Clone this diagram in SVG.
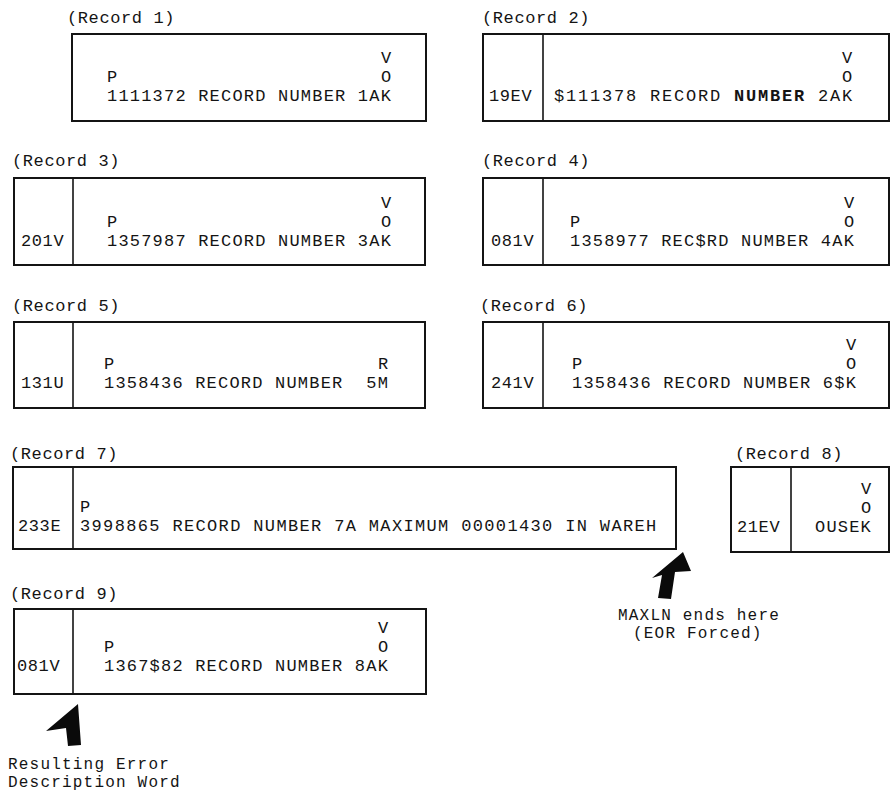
<svg xmlns="http://www.w3.org/2000/svg" width="891" height="792" viewBox="0 0 891 792">
<style>
text{font-family:"Liberation Mono","Courier New",monospace;font-size:17px;letter-spacing:0.6px;fill:#141414}
.c{letter-spacing:1.2px}
.n{font-size:16px;letter-spacing:1.2px}
.box{fill:none;stroke:#141414;stroke-width:2}
.div{stroke:#141414;stroke-width:1.6}
.arr{fill:#0a0a0a;stroke:none}
</style>
<rect width="891" height="792" fill="#fff"/>
<g id="record1">
<text x="67" y="23">(Record 1)</text>
<rect class="box" x="72" y="34" width="354" height="87"/>
<text class="c" x="381" y="63">V</text>
<text class="c" x="107" y="82">P</text>
<text class="c" x="381" y="82">O</text>
<text class="c" x="107" y="101">1111372 RECORD NUMBER 1AK</text>
</g>
<g id="record2">
<text x="482" y="23">(Record 2)</text>
<rect class="box" x="483" y="34" width="406" height="87"/>
<line class="div" x1="543" y1="34" x2="543" y2="121"/>
<text x="489" y="101">19EV</text>
<text x="842" y="63">V</text>
<text x="842" y="82">O</text>
<text x="554" y="101" style="letter-spacing:1.8px">$111378 RECORD <tspan font-weight="bold">NUMBER</tspan> 2AK</text>
</g>
<g id="record3">
<text x="12" y="166">(Record 3)</text>
<rect class="box" x="14" y="178" width="411" height="87"/>
<line class="div" x1="73" y1="178" x2="73" y2="265"/>
<text x="21" y="246">201V</text>
<text class="c" x="381" y="208">V</text>
<text class="c" x="107" y="227">P</text>
<text class="c" x="381" y="227">O</text>
<text class="c" x="107" y="246">1357987 RECORD NUMBER 3AK</text>
</g>
<g id="record4">
<text x="482" y="166">(Record 4)</text>
<rect class="box" x="483" y="178" width="406" height="87"/>
<line class="div" x1="543" y1="178" x2="543" y2="265"/>
<text x="491" y="246">081V</text>
<text class="c" x="844" y="208">V</text>
<text class="c" x="570" y="227">P</text>
<text class="c" x="844" y="227">O</text>
<text class="c" x="570" y="246">1358977 REC$RD NUMBER 4AK</text>
</g>
<g id="record5">
<text x="12" y="311">(Record 5)</text>
<rect class="box" x="14" y="322" width="411" height="86"/>
<line class="div" x1="73" y1="322" x2="73" y2="408"/>
<text x="21" y="388">131U</text>
<text class="c" x="104" y="369">P</text>
<text class="c" x="378" y="369">R</text>
<text class="c" x="104" y="388" xml:space="preserve">1358436 RECORD NUMBER  5M</text>
</g>
<g id="record6">
<text x="480" y="311">(Record 6)</text>
<rect class="box" x="483" y="322" width="406" height="86"/>
<line class="div" x1="543" y1="322" x2="543" y2="408"/>
<text x="491" y="388">241V</text>
<text class="c" x="846" y="350">V</text>
<text class="c" x="572" y="369">P</text>
<text class="c" x="846" y="369">O</text>
<text class="c" x="572" y="388">1358436 RECORD NUMBER 6$K</text>
</g>
<g id="record7">
<text x="10" y="459">(Record 7)</text>
<rect class="box" x="13" y="467" width="663" height="82"/>
<line class="div" x1="73" y1="467" x2="73" y2="549"/>
<text x="18" y="531">233E</text>
<text class="c" x="80" y="512">P</text>
<text x="80" y="531" style="letter-spacing:1.35px">3998865 RECORD NUMBER 7A MAXIMUM 00001430 IN WAREH</text>
</g>
<g id="record8">
<text x="735" y="459">(Record 8)</text>
<rect class="box" x="731" y="467" width="158" height="85"/>
<line class="div" x1="791" y1="467" x2="791" y2="552"/>
<text x="737" y="532">21EV</text>
<text class="c" x="861" y="494">V</text>
<text class="c" x="861" y="513">O</text>
<text class="c" x="815" y="532">OUSEK</text>
</g>
<g id="record9">
<text x="10" y="599">(Record 9)</text>
<rect class="box" x="14" y="609" width="412" height="85"/>
<line class="div" x1="73" y1="609" x2="73" y2="694"/>
<text x="17" y="671">081V</text>
<text class="c" x="378" y="633">V</text>
<text class="c" x="104" y="652">P</text>
<text class="c" x="378" y="652">O</text>
<text class="c" x="104" y="671">1367$82 RECORD NUMBER 8AK</text>
</g>
<g id="note-maxln">
<text class="n" x="618" y="620">MAXLN ends here</text>
<text class="n" x="633" y="638">(EOR Forced)</text>
</g>
<g id="note-error">
<text class="n" x="8" y="769">Resulting Error</text>
<text class="n" x="8" y="787">Description Word</text>
</g>
<g id="connectors">
<polygon class="arr" points="683,552 691,571 675,572 671,599 658,598 662,575 652,578"/>
<polygon class="arr" points="78,704 81,745 68,746 66,728 46,731"/>
</g>
</svg>
